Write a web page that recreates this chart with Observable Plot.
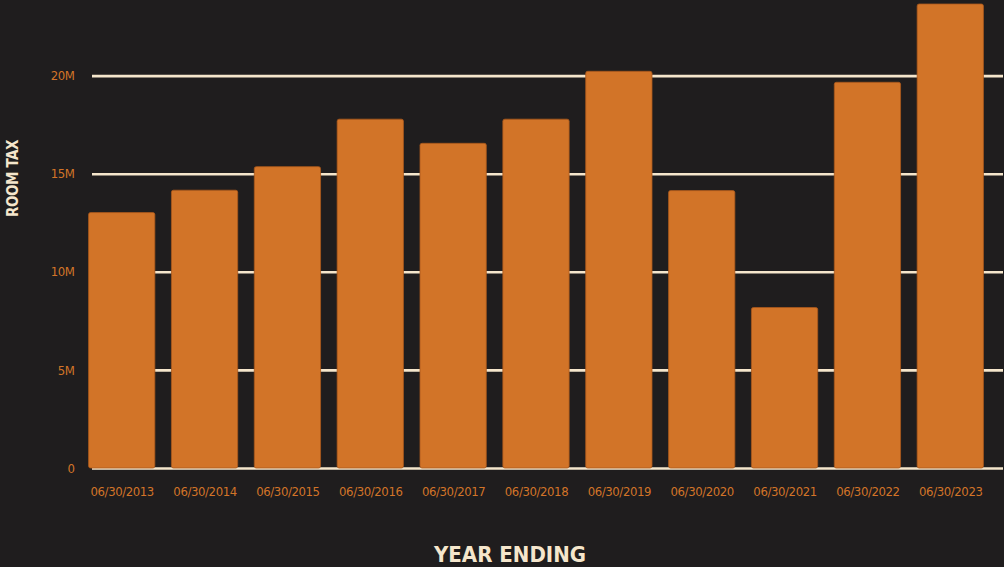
<!DOCTYPE html>
<html>
<head>
<meta charset="utf-8">
<script src="https://cdn.jsdelivr.net/npm/d3@7"></script>
<script src="https://cdn.jsdelivr.net/npm/@observablehq/plot@0.6"></script>
<style>
  html, body { margin: 0; padding: 0; background: #1f1d1e; overflow: hidden; }
  #chart svg { display: block; }
  #title { text-align: center; color: #f5e6cc; font-family: "DejaVu Sans Condensed", "DejaVu Sans", sans-serif; font-weight: bold; font-size: 22px; line-height: 22px; margin-top: 24px; padding-left: 16px; }
</style>
</head>
<body>
<div id="chart"></div>
<div id="title">YEAR ENDING</div>
<script>
const years = ["06/30/2013","06/30/2014","06/30/2015","06/30/2016","06/30/2017","06/30/2018","06/30/2019","06/30/2020","06/30/2021","06/30/2022","06/30/2023"];
const roomTax = [13.02e6, 14.16e6, 15.36e6, 17.78e6, 16.55e6, 17.78e6, 20.22e6, 14.14e6, 8.18e6, 19.66e6, 23.65e6];
const yTicks = [0, 5e6, 10e6, 15e6, 20e6];
const yTickLabels = ["0", "5M", "10M", "15M", "20M"];

const data = years.map((y, i) => ({year: y, value: roomTax[i]}));
const orange = "#d27428";
const cream = "#f5e6cc";
const font = "'DejaVu Sans Condensed', sans-serif";

const chart = Plot.plot({
  width: 1004,
  height: 520,
  marginTop: 4,
  marginBottom: 52,
  marginLeft: 92,
  marginRight: 1,
  style: {background: "#1f1d1e", fontFamily: font, fontSize: "13px", color: orange, overflow: "visible", letterSpacing: "-0.4px"},
  x: {domain: years, range: [72, 1000], padding: 0.2, round: false, label: null},
  y: {domain: [0, d3.max(roomTax)], label: null},
  marks: [
    Plot.axisY({ticks: yTicks, tickFormat: (d) => yTickLabels[yTicks.indexOf(d)], tickSize: 0, tickPadding: 18, label: null, fill: orange}),
    Plot.gridY(yTicks, {stroke: cream, strokeOpacity: 1, strokeWidth: 2.6}),
    Plot.barY(data, {x: "year", y: "value", fill: orange, stroke: "#a9581c", strokeWidth: 0.8, rx: 2}),
    Plot.axisX({tickSize: 0, tickPadding: 18, label: null, fill: orange}),
    Plot.text(["ROOM TAX"], {frameAnchor: "left", textAnchor: "middle", rotate: -90, dx: -79, dy: -58, fill: cream, fontSize: 15, fontWeight: "bold", fontFamily: font, letterSpacing: "0px"})
  ]
});
document.getElementById("chart").appendChild(chart);
</script>
</body>
</html>
